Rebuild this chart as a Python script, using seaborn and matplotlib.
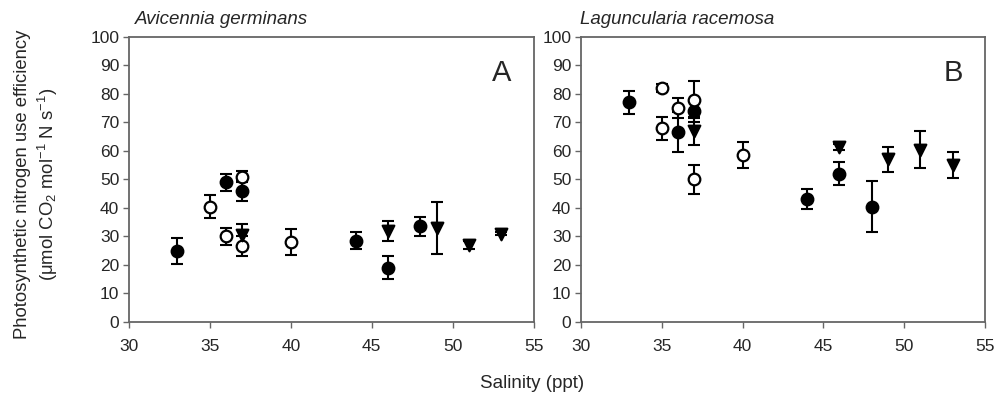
"""Photosynthetic nitrogen use efficiency vs salinity, two mangrove species"""
import matplotlib
matplotlib.use("Agg")
import matplotlib.pyplot as plt
import pandas as pd
import seaborn as sns

# Avicennia germinans (panel A)
a_filled_x = [33, 36, 37, 44, 46, 48]
a_filled_y = [25, 49, 46, 28.5, 19, 33.5]
a_filled_err = [4.5, 3, 3.5, 3, 4, 3.5]
a_open_x = [35, 36, 37, 37, 40]
a_open_y = [40.5, 30, 26.5, 51, 28]
a_open_err = [4, 3, 3.5, 2, 4.5]
a_tri_x = [37, 46, 49, 51, 53]
a_tri_y = [30.5, 32, 33, 27, 31]
a_tri_err = [4, 3.5, 9, 1.5, 0.5]

# Laguncularia racemosa (panel B)
l_filled_x = [33, 36, 37, 44, 46, 48]
l_filled_y = [77, 66.5, 74, 43, 52, 40.5]
l_filled_err = [4, 7, 4, 3.5, 4, 9]
l_open_x = [35, 35, 36, 37, 37, 40]
l_open_y = [82, 68, 75, 78, 50, 58.5]
l_open_err = [1.5, 4, 3.5, 6.5, 5, 4.5]
l_tri_x = [37, 46, 49, 51, 53]
l_tri_y = [67, 61.5, 57, 60.5, 55]
l_tri_err = [5, 1, 4.5, 6.5, 4.5]

x_ticks = [30, 35, 40, 45, 50, 55]
y_ticks = [0, 10, 20, 30, 40, 50, 60, 70, 80, 90, 100]


def make_frame(species, parts):
    rows = []
    for group, xs, ys, es in parts:
        for x, y, e in zip(xs, ys, es):
            rows.append({"species": species, "group": group,
                         "salinity": x, "pnue": y, "err": e})
    return pd.DataFrame(rows)


df = pd.concat([
    make_frame("Avicennia germinans", [
        ("filled", a_filled_x, a_filled_y, a_filled_err),
        ("open", a_open_x, a_open_y, a_open_err),
        ("tri", a_tri_x, a_tri_y, a_tri_err),
    ]),
    make_frame("Laguncularia racemosa", [
        ("filled", l_filled_x, l_filled_y, l_filled_err),
        ("open", l_open_x, l_open_y, l_open_err),
        ("tri", l_tri_x, l_tri_y, l_tri_err),
    ]),
])

styles = {
    "filled": dict(marker="o", color="black"),
    "open": dict(marker="o", color="white"),
    "tri": dict(marker="v", color="black"),
}

sns.set_style("white")
plt.rcParams["font.family"] = ["Liberation Sans", "DejaVu Sans"]
plt.rcParams["mathtext.fontset"] = "custom"
plt.rcParams["mathtext.rm"] = "Liberation Sans"
plt.rcParams["mathtext.it"] = "Liberation Sans:italic"

fig = plt.figure(figsize=(10.07, 4.01), dpi=100)
axes = [
    fig.add_axes([0.128, 0.197, 0.402, 0.711]),
    fig.add_axes([0.577, 0.197, 0.401, 0.711]),
]
species_list = ["Avicennia germinans", "Laguncularia racemosa"]
letters = ["A", "B"]

for ax, sp, letter in zip(axes, species_list, letters):
    sub = df[df["species"] == sp]
    for group, st in styles.items():
        g = sub[sub["group"] == group]
        ax.errorbar(g["salinity"], g["pnue"], yerr=g["err"], fmt="none",
                    ecolor="black", elinewidth=1.5, capsize=4.5, capthick=1.5,
                    zorder=2)
        sns.scatterplot(data=g, x="salinity", y="pnue", ax=ax,
                        marker=st["marker"], color=st["color"],
                        edgecolor="black", linewidth=1.6, s=70,
                        zorder=3, legend=False)
    ax.set_xlim(30, 55)
    ax.set_ylim(0, 100)
    ax.set_xticks(x_ticks)
    ax.set_yticks(y_ticks)
    ax.set_xlabel("")
    ax.set_ylabel("")
    ax.tick_params(axis="both", which="both", direction="out", length=4,
                   width=1, color="#666666", labelsize=12.5, pad=3,
                   left=True, bottom=True)
    ax.tick_params(axis="x", pad=8)
    for s in ax.spines.values():
        s.set_color("#666666")
        s.set_linewidth(1.3)
    ax.text(0.945, 0.875, letter, transform=ax.transAxes, fontsize=21,
            ha="right", va="center")

fig.text(135 / 1007, 1 - 20 / 401, "Avicennia germinans", style="italic",
         fontsize=13.5, ha="left", va="center")
fig.text(580 / 1007, 1 - 20 / 401, "Laguncularia racemosa", style="italic",
         fontsize=13.5, ha="left", va="center")

fig.text(37 / 1007, 1 - 184 / 401,
         "Photosynthetic nitrogen use efficiency\n"
         r"(μmol CO$_2$ mol$^{-1}$ N s$^{-1}$)",
         rotation=90, ha="center", va="center", multialignment="center",
         fontsize=13.3, linespacing=1.3)
fig.text(532 / 1007, 1 - 383 / 401, "Salinity (ppt)", ha="center",
         va="center", fontsize=13.5)

fig.savefig("out.png", dpi=100)
